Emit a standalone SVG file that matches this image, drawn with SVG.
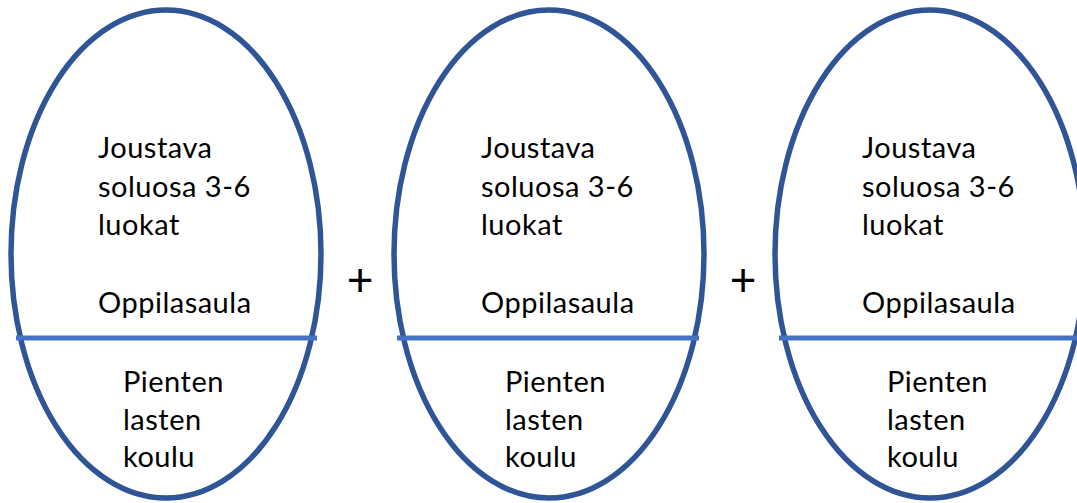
<svg xmlns="http://www.w3.org/2000/svg" width="1077" height="503" viewBox="0 0 1077 503">
<style>
.oval{fill:none;stroke:#2F5597;stroke-width:5.5}
.div{stroke:#4472C4;stroke-width:5}
text{font-family:Lato,"Open Sans","Liberation Sans",sans-serif;font-size:29px;letter-spacing:0.5px;fill:#000}
.plus{font-size:46px;text-anchor:middle;letter-spacing:0}
</style>
<rect width="1077" height="503" fill="#fff"/>
<g id="node1">
<ellipse class="oval" cx="166" cy="254" rx="155" ry="244"/>
<line class="div" x1="16" y1="338" x2="317" y2="338"/>
<text x="98" y="158">Joustava</text>
<text x="98" y="197">soluosa 3-6</text>
<text x="98" y="235">luokat</text>
<text x="98" y="313">Oppilasaula</text>
<text x="123" y="392">Pienten</text>
<text x="123" y="430">lasten</text>
<text x="123" y="467">koulu</text>
</g>
<g id="plus1"><text class="plus" x="360" y="296">+</text></g>
<g id="node2">
<ellipse class="oval" cx="549" cy="254" rx="155" ry="244"/>
<line class="div" x1="397" y1="338" x2="699" y2="338"/>
<text x="481" y="158">Joustava</text>
<text x="481" y="197">soluosa 3-6</text>
<text x="481" y="235">luokat</text>
<text x="481" y="313">Oppilasaula</text>
<text x="505" y="392">Pienten</text>
<text x="505" y="430">lasten</text>
<text x="505" y="467">koulu</text>
</g>
<g id="plus2"><text class="plus" x="743" y="296">+</text></g>
<g id="node3">
<ellipse class="oval" cx="930" cy="254" rx="155" ry="244"/>
<line class="div" x1="779" y1="338" x2="1077" y2="338"/>
<text x="862" y="158">Joustava</text>
<text x="862" y="197">soluosa 3-6</text>
<text x="862" y="235">luokat</text>
<text x="862" y="313">Oppilasaula</text>
<text x="887" y="392">Pienten</text>
<text x="887" y="430">lasten</text>
<text x="887" y="467">koulu</text>
</g>
<g id="connectors"/>
</svg>
